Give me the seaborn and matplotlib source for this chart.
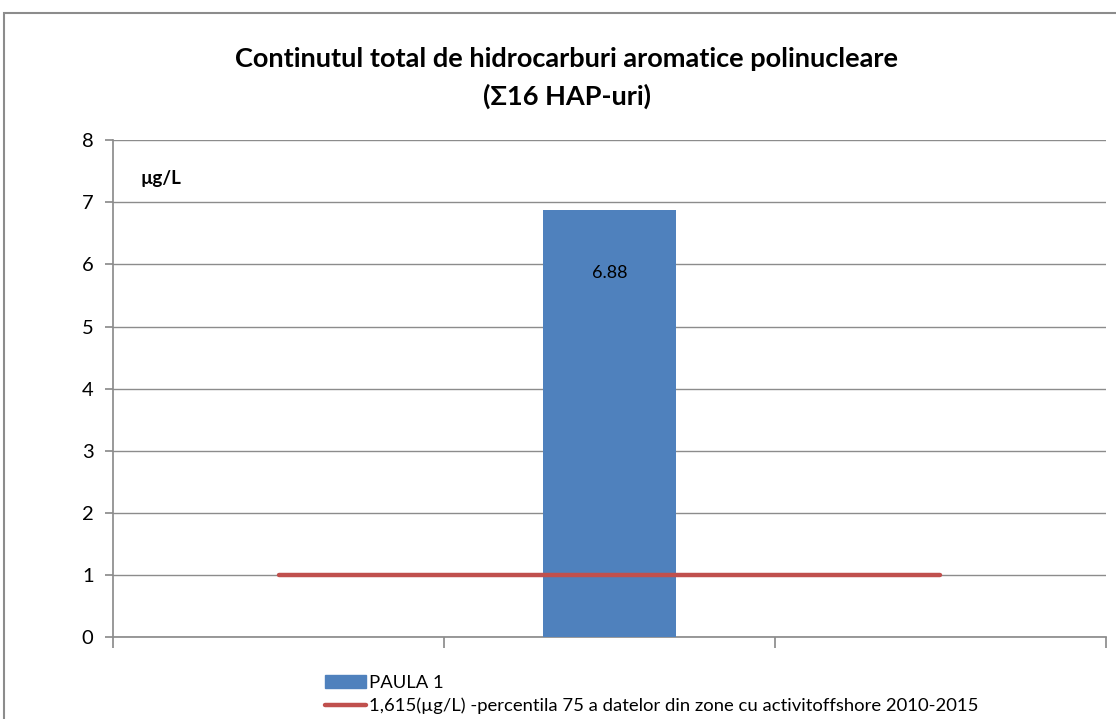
import numpy as np
import pandas as pd
import seaborn as sns
import matplotlib.pyplot as plt
from matplotlib.patches import Rectangle
from matplotlib.lines import Line2D

# date
categorii = ["c1", "c2", "c3"]
statie = ["c2"]
valori_hap = [6.88]
prag = [1, 1, 1]
eticheta_bara = "PAULA 1"
eticheta_prag = "1,615(µg/L) -percentila 75 a datelor din zone cu activitoffshore 2010-2015"
titlu = "Continutul total de hidrocarburi aromatice polinucleare\n(Σ16 HAP-uri)"

sns.set_theme(style="white")
plt.rcParams['font.family'] = ['Lato', 'DejaVu Sans']
plt.rcParams['text.color'] = 'black'
plt.rcParams['ytick.color'] = 'black'

fig = plt.figure(figsize=(11.16, 7.19), dpi=100)
ax = fig.add_axes([0.1013, 0.114, 0.8897, 0.691])

# chenar exterior
fig.patches.append(Rectangle((4 / 1116, -0.1), 1.2, 1 - 13 / 719 + 0.1,
                             transform=fig.transFigure, fill=False,
                             edgecolor="#8c8c8c", linewidth=1.5))

df = pd.DataFrame({"statie": statie, "valoare": valori_hap})
sns.barplot(data=df, x="statie", y="valoare", order=categorii, color="#4F81BD",
            width=0.4, saturation=1, linewidth=0, ax=ax, zorder=3)
ax.bar_label(ax.containers[0], fmt="%.2f", padding=-51, fontsize=13, color="black")

ax.plot(np.arange(len(categorii)), prag, color="#C0504D", linewidth=3.2,
        solid_capstyle="round", zorder=4)

ax.set_ylim(0, 8)
ax.set_xlim(-0.5, len(categorii) - 0.5)
ax.set_yticks(range(0, 9))
ax.set_xticks(np.arange(len(categorii) + 1) - 0.5)
ax.set_xticklabels([])
ax.set_xlabel("")
ax.set_ylabel("")
ax.yaxis.grid(True, color="#8c8c8c", linewidth=1)
ax.set_axisbelow(True)
for s in ["top", "right"]:
    ax.spines[s].set_visible(False)
ax.spines["left"].set_color("#8c8c8c")
ax.spines["bottom"].set_color("#8c8c8c")
ax.tick_params(axis="y", left=True, length=6, color="#8c8c8c", labelsize=14.5, pad=8)
ax.tick_params(axis="x", bottom=True, length=8, color="#8c8c8c")

ax.text(0.028, 0.923, "µg/L", transform=ax.transAxes, fontsize=13.5, fontweight="bold",
        ha="left", va="center")

fig.text(0.508, 0.892, titlu, ha="center", va="center", fontsize=19.5,
         fontweight="bold", linespacing=1.6)

handles = [Rectangle((0, 0), 1, 1, color="#4F81BD"),
           Line2D([0], [0], color="#C0504D", linewidth=3.2)]
fig.legend(handles, [eticheta_bara, eticheta_prag], loc="upper left",
           bbox_to_anchor=(0.283, 0.074), frameon=False, fontsize=13.3,
           handlelength=2.2, handletextpad=0.2, labelspacing=0.35, borderpad=0)

fig.savefig("out.png", dpi=100)
